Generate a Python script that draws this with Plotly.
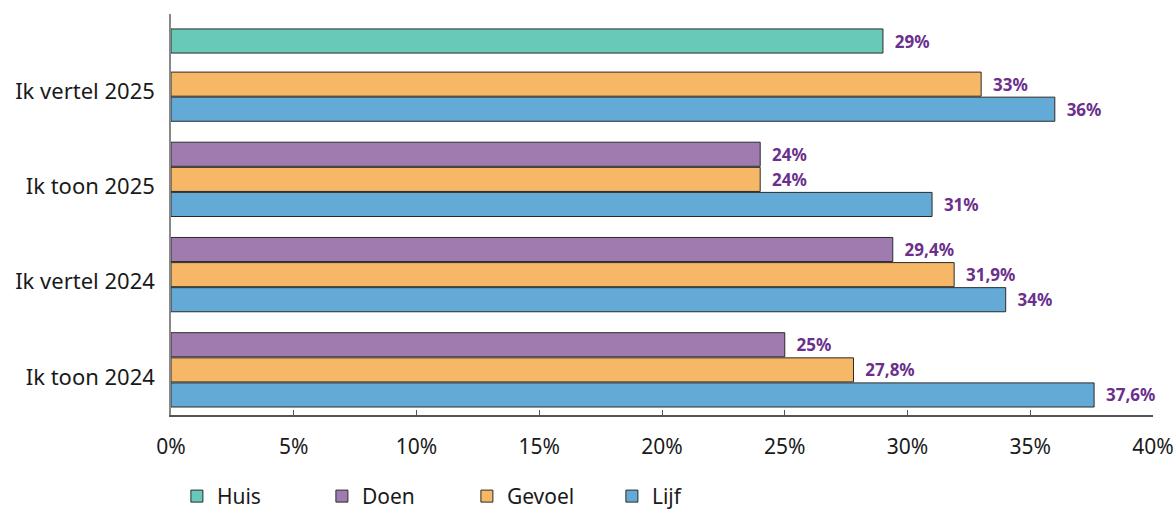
import plotly.graph_objects as go

categories = ["Ik toon 2024", "Ik vertel 2024", "Ik toon 2025", "Ik vertel 2025"]
lijf = [37.6, 34, 31, 36]
gevoel = [27.8, 31.9, 24, 33]
doen = [25, 29.4, 24, None]
huis = [None, None, None, 29]
x_ticks = [0, 5, 10, 15, 20, 25, 30, 35, 40]

pos = list(range(len(categories)))

def fmt(v):
    if v is None:
        return ""
    s = f"{v:g}".replace(".", ",")
    return "\u00a0\u00a0" + s + "%"

FONT = "Noto Sans"
LABEL_COLOR = "#6b2f8c"

series = [
    ("Huis", huis, "#68c9b8", 0.40),
    ("Doen", doen, "#a07bb0", 0.211),
    ("Gevoel", gevoel, "#f6b866", -0.053),
    ("Lijf", lijf, "#63aad6", -0.316),
]

fig = go.Figure()
for name, vals, color, off in series:
    fig.add_trace(go.Bar(
        name=name,
        y=pos,
        x=vals,
        orientation="h",
        width=0.253,
        offset=off,
        marker=dict(color=color, line=dict(color="#2a2a2a", width=1)),
        text=[fmt(v) for v in vals],
        textposition="outside",
        textfont=dict(family=FONT, size=17, color=LABEL_COLOR, weight="bold"),
        cliponaxis=False,
    ))

fig.update_layout(
    barmode="overlay",
    width=1176,
    height=513,
    margin=dict(l=171, r=23, t=14, b=98, autoexpand=False),
    paper_bgcolor="white",
    plot_bgcolor="white",
    font=dict(family=FONT, color="#1a1a1a"),
    showlegend=True,
    legend=dict(
        orientation="h",
        x=0.006,
        xanchor="left",
        y=-0.152,
        yanchor="top",
        font=dict(family=FONT, size=21, color="#1a1a1a"),
        entrywidth=100,
        traceorder="normal",
    ),
    xaxis=dict(
        range=[0, 40],
        tickvals=x_ticks,
        ticktext=[f"{t}%" for t in x_ticks],
        ticks="inside",
        ticklen=5,
        tickcolor="#555555",
        showline=True,
        linecolor="#555555",
        linewidth=1.5,
        showgrid=False,
        zeroline=False,
        ticklabelstandoff=12,
        tickfont=dict(family=FONT, size=21, color="#1a1a1a"),
    ),
    yaxis=dict(
        range=[-0.4, 3.81],
        tickvals=pos,
        ticktext=categories,
        ticks="",
        showline=True,
        linecolor="#888888",
        linewidth=1.5,
        showgrid=False,
        zeroline=False,
        ticklabelstandoff=10,
        tickfont=dict(family=FONT, size=22, color="#1a1a1a"),
    ),
)

fig.write_html("out.html")
